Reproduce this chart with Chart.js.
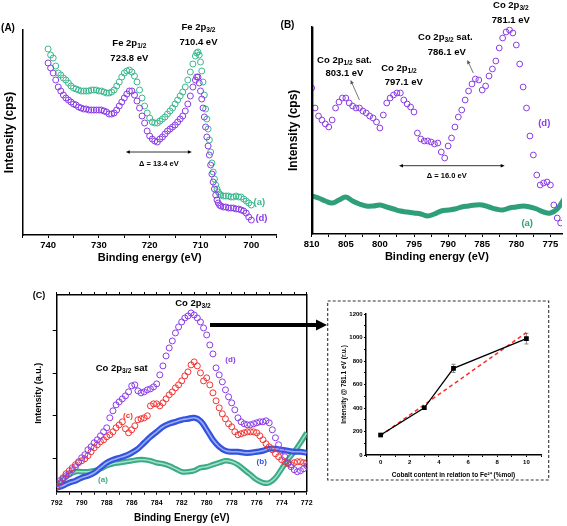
<!DOCTYPE html>
<html>
<head>
<meta charset="utf-8">
<title>XPS Fe 2p / Co 2p</title>
<script src="https://cdn.jsdelivr.net/npm/chart.js@4.4.1/dist/chart.umd.min.js"></script>
<style>
  body { margin: 0; background: #fff; }
  #page { position: relative; width: 567px; height: 526px; overflow: hidden; background: #fff; }
  canvas { position: absolute; }
</style>
</head>
<body>
<div id="page">
  <canvas id="chartA" width="285" height="270" style="left:0px;top:0px;z-index:1"></canvas>
  <canvas id="chartC" width="330" height="256" style="left:0px;top:270px;z-index:1"></canvas>
  <canvas id="chartD" width="224" height="182" style="left:326px;top:300px;z-index:2"></canvas>
  <canvas id="chartB" width="287" height="270" style="left:280px;top:0px;z-index:3"></canvas>
</div>
<script>
// Panel A - Fe 2p region: 740 -> 711 eV every 0.5 eV, the steep edge every 0.25 eV, then 705.5 -> 700 eV
const feEnergy = energyRange(740, 711, 0.5)
  .concat(energyRange(710.75, 706, 0.25))
  .concat(energyRange(705.5, 700, 0.5));
const feSampleA = [
  186, 180, 177, 169, 162, 160, 157, 155, 152, 149,
  147, 146, 145, 144, 144, 144, 144, 145, 145, 145,
  144, 144, 143, 142, 142, 143, 145, 149, 153, 158,
  162, 164, 165, 163, 159, 153, 145, 137, 129, 122,
  117, 113, 112, 112, 114, 116, 118, 121, 124, 127,
  131, 135, 139, 143, 148, 155, 163, 171, 179,
  182, 183, 180, 173, 164, 153, 140, 126, 116, 106,
  95, 83, 72, 63, 56, 50, 46, 43, 41, 40,
  39, 39, 39, 38, 38, 39, 38, 38, 36, 34, 32, 30,
];
const feSampleD = [
  172, 167, 162, 155, 148, 144, 140, 137, 135, 133,
  131, 130, 128, 127, 126, 126, 125, 125, 125, 125,
  125, 125, 124, 123, 121, 121, 122, 125, 129, 133,
  137, 141, 144, 144, 140, 134, 127, 119, 112, 104,
  99, 96, 94, 93, 96, 98, 101, 104, 106, 108,
  110, 113, 116, 119, 124, 131, 139, 148, 155,
  158, 158, 152, 144, 136, 127, 118, 108, 98, 89,
  80, 70, 61, 53, 46, 40, 35, 32, 30, 29,
  28, 28, 27, 27, 27, 26, 26, 25, 24, 22, 18, 15,
];

// Panel B - Co 2p region, sample (d) every 0.5 eV, sample (a) every 1 eV
const coWideEnergyD = energyRange(810, 773.5, 0.5);
const coWideSampleD = [
  146, 126, 118, 114, 110, 107, 114, 126, 132, 136,
  136, 131, 128, 126, 126, 123, 121, 118, 116, 112,
  106, 119, 131, 136, 139, 141, 141, 134, 130, 127,
  122, 101, 95, 93, 93, 92, 90, 91, 82, 76,
  88, 96, 107, 117, 124, 134, 143, 150, 155, 154,
  144, 148, 158, 165, 173, 186, 196, 202, 204, 201,
  189, 170, 147, 126, 98, 79, 59, 49, 51, 52,
  49, 29, 16, 11,
];
const coWideEnergyA = energyRange(810, 773, 1);
const coWideSampleA = [
  38, 36, 33, 31, 34, 37, 33, 30, 28, 28,
  29, 27, 25, 23, 22, 21, 20, 18, 20, 23,
  24, 25, 27, 28, 29, 29, 27, 25, 24, 26,
  27, 28, 27, 25, 22, 21, 25, 35,
];

// Panel C - Co 2p3/2 region, samples (a)-(d)
const coEnergyFine = energyRange(792, 772, 0.25);
const coEnergy = energyRange(792, 772, 0.5);
const coSampleD = [
  8, 11, 13, 16, 18, 22, 25, 30, 34, 37,
  42, 45, 49, 52, 56, 60, 64, 74, 81, 87,
  90, 93, 96, 100, 106, 107, 101, 99, 100, 102,
  103, 105, 108, 117, 126, 136, 144, 151, 159, 165,
  170, 174, 176, 179, 177, 174, 170, 164, 157, 147,
  138, 124, 117, 110, 102, 95, 89, 82, 74, 70,
  68, 67, 67, 68, 69, 70, 70, 71, 69, 62,
  54, 47, 41, 35, 29, 25, 22, 20, 21, 23,
  26,
];
const coSampleC = [
  5, 9, 14, 18, 21, 24, 27, 29, 31, 33,
  36, 40, 44, 47, 50, 52, 55, 57, 60, 64,
  67, 70, 63, 59, 62, 66, 72, 73, 74, 76,
  86, 88, 88, 86, 89, 93, 97, 100, 104, 107,
  111, 116, 120, 127, 130, 126, 119, 111, 114, 107,
  99, 91, 84, 78, 73, 68, 65, 60, 57, 58,
  59, 60, 60, 60, 59, 56, 52, 48, 45, 42,
  38, 35, 32, 30, 28, 27, 29, 30, 30, 29,
  29,
];
const coSampleB = [
  4, 6, 9, 11, 14, 16, 19, 24, 29, 32,
  34, 36, 39, 43, 49, 55, 60, 65, 68, 70,
  72, 73, 74, 71, 62, 52, 45, 41, 40, 40,
  39, 39, 40, 41, 43, 43, 42, 41, 40, 40,
  39,
];
const coSampleA = [
  5, 12, 17, 20, 20, 20, 21, 23, 26, 28,
  29, 30, 31, 32, 32, 31, 29, 28, 26, 23,
  20, 20, 21, 24, 25, 27, 29, 31, 30, 27,
  22, 17, 12, 9, 9, 14, 23, 32, 40, 49,
  59,
];
const coTickLevels = [33.4, 76, 118.7, 161.4];

// Panel D - intensity at 781.1 eV vs cobalt content
const cobaltContent = [0, 3, 5, 10];
const intensity781 = [170, 402, 737, 990];
const intensityError = [15, 15, 35, 45];
const fitContent = [0, 10];
const fitIntensity = [165, 1042];

const FONT = "'Liberation Sans', Arial, Helvetica, sans-serif";
const GREEN = "#3db88e";
const BAND_GREEN = "#2e9f7a";
const C_GREEN = "#3aab86";
const PURPLE = "#8a3ce6";
const RED = "#f23434";
const BLUE = "#3352df";

Chart.defaults.font.family = FONT;
Chart.defaults.font.weight = "bold";
Chart.defaults.color = "#000";

function energyRange(from, to, step) {
  let n = Math.round((from - to) / step);
  let out = [];
  for (let i = 0; i <= n; i++) out.push(+(from - i * step).toFixed(2));
  return out;
}

function points(xs, ys) {
  return ys.map(function (y, i) {
    return { x: xs[i], y: y };
  });
}

// text with sub/superscript parts: [text, 0 normal | 1 sub | 2 sup]
function richText(ctx, parts, x, y, size, color) {
  let widths = parts.map(function (p) {
    ctx.font = "bold " + (p[1] ? size * 0.7 : size) + "px " + FONT;
    return ctx.measureText(p[0]).width;
  });
  let total = widths.reduce((a, b) => a + b, 0);
  let cx = x - total / 2;
  ctx.fillStyle = color || "#000";
  ctx.textBaseline = "middle";
  ctx.textAlign = "left";
  parts.forEach(function (p, i) {
    ctx.font = "bold " + (p[1] ? size * 0.7 : size) + "px " + FONT;
    let dy = p[1] === 1 ? size * 0.3 : p[1] === 2 ? -size * 0.35 : 0;
    ctx.fillText(p[0], cx, y + dy);
    cx += widths[i];
  });
}

function arrowHead(ctx, x, y, ang, len, half) {
  let c = Math.cos(ang), s = Math.sin(ang);
  ctx.beginPath();
  ctx.moveTo(x, y);
  ctx.lineTo(x - c * len - s * half, y - s * len + c * half);
  ctx.lineTo(x - c * len + s * half, y - s * len - c * half);
  ctx.closePath();
  ctx.fill();
}

function drawArrow(ctx, x1, y1, x2, y2, a) {
  let head = a.head || 4;
  let half = a.half || head * 0.45;
  let ang = Math.atan2(y2 - y1, x2 - x1);
  let c = Math.cos(ang), s = Math.sin(ang);
  ctx.strokeStyle = a.color || "#000";
  ctx.fillStyle = a.color || "#000";
  ctx.lineWidth = a.width || 1;
  ctx.beginPath();
  ctx.moveTo(a.both ? x1 + c * head * 0.9 : x1, a.both ? y1 + s * head * 0.9 : y1);
  ctx.lineTo(x2 - c * head * 0.9, y2 - s * head * 0.9);
  ctx.stroke();
  arrowHead(ctx, x2, y2, ang, head, half);
  if (a.both) arrowHead(ctx, x1, y1, ang + Math.PI, head, half);
}

// Draw labels, arrows and frames given in data units (or absolute pixels)
const notesPlugin = {
  id: "notes",
  afterDraw: function (chart, args, opts) {
    let ctx = chart.ctx;
    let area = chart.chartArea;
    let xs = chart.scales.x, ys = chart.scales.y;
    let px = (p) => [xs.getPixelForValue(p[0]), ys.getPixelForValue(p[1])];
    ctx.save();
    if (opts.box) {
      ctx.strokeStyle = "#333";
      ctx.lineWidth = 1.1;
      ctx.setLineDash([3, 2]);
      ctx.strokeRect(opts.box[0], opts.box[1], opts.box[2], opts.box[3]);
      ctx.setLineDash([]);
    }
    (opts.arrows || []).forEach(function (a) {
      let p1 = a.absFrom || px(a.from);
      let p2 = a.absTo || px(a.to);
      drawArrow(ctx, p1[0], p1[1], p2[0], p2[1], a);
    });
    (opts.texts || []).forEach(function (t) {
      let p = t.abs || px(t.at);
      richText(ctx, t.parts, p[0], p[1], t.size || 9.5, t.color);
    });
    if (opts.leftLine) {
      ctx.strokeStyle = "#000";
      ctx.lineWidth = 1.8;
      ctx.beginPath();
      ctx.moveTo(Math.round(area.left) + 0.5, area.top);
      ctx.lineTo(Math.round(area.left) + 0.5, area.bottom);
      ctx.stroke();
    }
    ctx.restore();
  },
};

// Error bars under the points of one dataset
const errorBarPlugin = {
  id: "errorBars",
  beforeDatasetsDraw: function (chart, args, opts) {
    if (!opts.errors) return;
    let ctx = chart.ctx;
    let ys = chart.scales.y;
    let meta = chart.getDatasetMeta(opts.datasetIndex);
    let values = chart.data.datasets[opts.datasetIndex].data;
    ctx.save();
    ctx.strokeStyle = opts.color;
    ctx.lineWidth = 1;
    meta.data.forEach(function (pt, i) {
      let top = ys.getPixelForValue(values[i].y + opts.errors[i]);
      let bot = ys.getPixelForValue(values[i].y - opts.errors[i]);
      ctx.beginPath();
      ctx.moveTo(pt.x, top);
      ctx.lineTo(pt.x, bot);
      ctx.moveTo(pt.x - 2, top);
      ctx.lineTo(pt.x + 2, top);
      ctx.moveTo(pt.x - 2, bot);
      ctx.lineTo(pt.x + 2, bot);
      ctx.stroke();
    });
    ctx.restore();
  },
};

function energyAxis(o) {
  return {
    type: "linear",
    position: o.position || "bottom",
    reverse: o.reverse !== false,
    min: o.min,
    max: o.max,
    afterFit: function (scale) {
      scale.height = o.height;
    },
    border: { display: true, color: "#000", width: 1.5 },
    grid: { display: true, drawOnChartArea: false, drawTicks: true, tickLength: o.tickLength || 3, tickColor: "#000", tickWidth: 1 },
    ticks: {
      display: !!o.labelEvery,
      stepSize: o.step,
      autoSkip: false,
      maxRotation: 0,
      includeBounds: false,
      padding: o.padding || 0,
      color: "#000",
      font: { size: o.fontSize || 9.5, weight: "bold" },
      callback: function (v) {
        if (o.labelRange && (v < o.labelRange[0] || v > o.labelRange[1])) return "";
        return Math.abs(v % o.labelEvery) < 1e-6 ? v : "";
      },
    },
    title: {
      display: !!o.title,
      text: o.title,
      color: "#000",
      font: { size: o.titleSize || 11, weight: "bold" },
      padding: { top: 0, bottom: o.titlePadding || 0 },
    },
  };
}

function intensityAxis(o) {
  let hasTicks = !!(o.tickValues || o.step);
  let axis = {
    type: "linear",
    position: o.position || "left",
    min: o.min,
    max: o.max,
    afterFit: function (scale) {
      scale.width = o.width;
    },
    border: { display: true, color: "#000", width: 1.5 },
    grid: { display: hasTicks, drawOnChartArea: false, drawTicks: true, tickLength: o.tickLength || 3, tickColor: "#000", tickWidth: 1 },
    ticks: {
      display: !!o.labelEvery,
      stepSize: o.step,
      autoSkip: false,
      padding: o.padding || 0,
      color: "#000",
      font: { size: o.fontSize || 6, weight: "bold" },
      callback: function (v) {
        return v % o.labelEvery === 0 ? v : "";
      },
    },
    title: {
      display: !!o.title,
      text: o.title,
      color: "#000",
      font: { size: o.titleSize || 12, weight: "bold" },
      padding: { top: o.titlePadding || 0, bottom: 0 },
    },
  };
  if (o.tickValues) {
    axis.afterBuildTicks = function (scale) {
      scale.ticks = o.tickValues.map((v) => ({ value: v }));
    };
  }
  return axis;
}

function markerSet(xs, ys, color, radius) {
  return {
    data: points(xs, ys),
    borderColor: color,
    backgroundColor: "rgba(0,0,0,0)",
    pointRadius: radius,
    pointBorderWidth: 1,
    showLine: false,
  };
}

// thick smoothed band: densely packed hollow markers in the original
function bandSet(xs, ys, color, width) {
  return {
    data: points(xs, ys),
    borderColor: color,
    backgroundColor: color,
    borderWidth: width,
    pointRadius: 0,
    showLine: true,
    fill: false,
    tension: 0.4,
  };
}

// ---- (A) Fe 2p ----
new Chart(document.getElementById("chartA"), {
  type: "scatter",
  data: {
    datasets: [markerSet(feEnergy, feSampleD, PURPLE, 3), markerSet(feEnergy, feSampleA, GREEN, 3)],
  },
  plugins: [notesPlugin],
  options: {
    responsive: false,
    animation: false,
    events: [],
    layout: { padding: { left: 0, top: 30, right: 8.3, bottom: 0 } },
    plugins: {
      legend: { display: false },
      tooltip: { enabled: false },
      notes: {
        texts: [
          { at: [724.0, 192], parts: [["Fe 2p", 0], ["1/2", 1]] },
          { at: [724.0, 177], parts: [["723.8 eV", 0]] },
          { at: [710.4, 208], parts: [["Fe 2p", 0], ["3/2", 1]] },
          { at: [710.4, 193], parts: [["710.4 eV", 0]] },
          { at: [718.2, 71], parts: [["\u0394 = 13.4 eV", 0]], size: 7.5 },
          { at: [698.4, 33], parts: [["(a)", 0]], color: GREEN },
          { at: [698.0, 17], parts: [["(d)", 0]], color: PURPLE },
          { abs: [8, 28], parts: [["(A)", 0]], size: 10 },
        ],
        arrows: [{ from: [724.7, 83], to: [711.7, 83], both: true, width: 0.8, head: 4 }],
      },
    },
    scales: {
      x: energyAxis({ min: 695, max: 745, step: 5, labelEvery: 10, height: 35, padding: 1.3, title: "Binding energy (eV)", titlePadding: 5.4 }),
      y: intensityAxis({ min: 0, max: 205, width: 22.7, title: "Intensity (cps)", titlePadding: 2.9 }),
    },
  },
});

// ---- (B) Co 2p ----
new Chart(document.getElementById("chartB"), {
  type: "scatter",
  data: {
    datasets: [markerSet(coWideEnergyD, coWideSampleD, PURPLE, 2.9), bandSet(coWideEnergyA, coWideSampleA, BAND_GREEN, 5)],
  },
  plugins: [notesPlugin],
  options: {
    responsive: false,
    animation: false,
    events: [],
    layout: { padding: { left: 0, top: 26.7, right: 0, bottom: 0 } },
    plugins: {
      legend: { display: false },
      tooltip: { enabled: false },
      notes: {
        leftLine: true,
        texts: [
          { at: [805.2, 174], parts: [["Co 2p", 0], ["1/2", 1], [" sat.", 0]] },
          { at: [805.2, 161], parts: [["803.1 eV", 0]] },
          { at: [797.2, 166], parts: [["Co 2p", 0], ["1/2", 1]] },
          { at: [796.5, 152], parts: [["797.1 eV", 0]] },
          { at: [790.4, 197], parts: [["Co 2p", 0], ["3/2", 1], [" sat.", 0]] },
          { at: [790.2, 182], parts: [["786.1 eV", 0]] },
          { at: [780.8, 229], parts: [["Co 2p", 0], ["3/2", 1]] },
          { at: [780.8, 214], parts: [["781.1 eV", 0]] },
          { at: [790.2, 58], parts: [["\u0394 = 16.0 eV", 0]], size: 7.5 },
          { at: [775.9, 111], parts: [["(d)", 0]], color: PURPLE },
          { at: [778.4, 11], parts: [["(a)", 0]], color: BAND_GREEN },
          { abs: [7.5, 25], parts: [["(B)", 0]], size: 10 },
        ],
        arrows: [
          { from: [797.2, 68.3], to: [781.7, 68.3], both: true, width: 0.8, head: 4 },
          { from: [803.0, 134], to: [804.3, 154], color: "#555", width: 0.8, head: 4 },
          { from: [786.3, 161], to: [787.2, 174], color: "#555", width: 0.8, head: 4 },
        ],
      },
    },
    scales: {
      x: energyAxis({ min: 773.3, max: 810, step: 2.5, labelEvery: 5, height: 36, padding: 1.6, title: "Binding energy (eV)", titlePadding: 6.7 }),
      y: intensityAxis({ min: 0, max: 207.3, width: 31.7, title: "Intensity (cps)", titlePadding: 6.1 }),
    },
  },
});

// ---- (C) Co 2p3/2 for samples (a)-(d) ----
let blueCore = bandSet(coEnergy, coSampleB, "#9aaef2", 1.6);
let greenCore = bandSet(coEnergy, coSampleA, "#a6e0cb", 1.4);
new Chart(document.getElementById("chartC"), {
  type: "scatter",
  data: {
    datasets: [
      markerSet(coEnergyFine, coSampleD, PURPLE, 3),
      markerSet(coEnergyFine, coSampleC, RED, 3),
      blueCore,
      bandSet(coEnergy, coSampleB, BLUE, 6),
      greenCore,
      bandSet(coEnergy, coSampleA, C_GREEN, 5.5),
    ],
  },
  plugins: [notesPlugin],
  options: {
    responsive: false,
    animation: false,
    events: [],
    layout: { padding: { left: 0, top: 21, right: 23.3, bottom: 0 } },
    plugins: {
      legend: { display: false },
      tooltip: { enabled: false },
      notes: {
        texts: [
          { at: [781.1, 189], parts: [["Co 2p", 0], ["3/2", 1]] },
          { at: [786.8, 124], parts: [["Co 2p", 0], ["3/2", 1], [" sat", 0]] },
          { at: [778.1, 132], parts: [["(d)", 0]], color: PURPLE, size: 8 },
          { at: [786.3, 76], parts: [["(c)", 0]], color: RED, size: 8 },
          { at: [775.6, 30], parts: [["(b)", 0]], color: BLUE, size: 8 },
          { at: [788.3, 12], parts: [["(a)", 0]], color: C_GREEN, size: 8 },
          { abs: [39, 26], parts: [["(C)", 0]], size: 9 },
        ],
        arrows: [{ absFrom: [210, 55], absTo: [327, 55], width: 4, head: 11, half: 5.5 }],
      },
    },
    scales: {
      x: energyAxis({ min: 772, max: 792, step: 1, labelEvery: 2, height: 34.3, padding: 4, fontSize: 7, title: "Binding Energy (eV)", titleSize: 10, titlePadding: 2 }),
      xTop: energyAxis({ position: "top", min: 772, max: 792, step: 1, height: 4 }),
      y: intensityAxis({ min: 0, max: 197, width: 56.7, tickValues: coTickLevels, tickLength: 4, title: "Intensity (a.u.)", titleSize: 9, titlePadding: 33.6 }),
      yRight: intensityAxis({ position: "right", min: 0, max: 197, width: 0 }),
    },
  },
});

// ---- inset: intensity @ 781.1 eV vs cobalt content ----
new Chart(document.getElementById("chartD"), {
  type: "scatter",
  data: {
    datasets: [
      {
        data: points(cobaltContent, intensity781),
        showLine: true,
        borderColor: "#000",
        borderWidth: 1.3,
        pointStyle: "rect",
        pointRadius: 2.4,
        pointBackgroundColor: "#000",
        pointBorderColor: "#000",
      },
      {
        data: points(fitContent, fitIntensity),
        showLine: true,
        borderColor: "#ff2a2a",
        borderWidth: 1.5,
        borderDash: [4, 3],
        pointRadius: 0,
      },
    ],
  },
  plugins: [notesPlugin, errorBarPlugin],
  options: {
    responsive: false,
    animation: false,
    events: [],
    layout: { padding: { left: 0, top: 14, right: 9, bottom: 0 } },
    plugins: {
      legend: { display: false },
      tooltip: { enabled: false },
      errorBars: { datasetIndex: 0, errors: intensityError, color: "#888" },
      notes: { box: [1.7, 1, 221, 179] },
    },
    scales: {
      x: energyAxis({ reverse: false, min: -1, max: 11, step: 1, labelEvery: 2, labelRange: [0, 10], height: 27, tickLength: 2, padding: 1.4, fontSize: 6, title: "Cobalt content in relation to Fe\u00b2\u207a (%mol)", titleSize: 6.5, titlePadding: 3.1 }),
      y: intensityAxis({ min: 0, max: 1200, step: 100, labelEvery: 200, width: 40, tickLength: 2, padding: 1.3, fontSize: 6, title: "Intensity @ 781.1 eV (r.u.)", titleSize: 6.5, titlePadding: 14.4 }),
    },
  },
});
</script>
</body>
</html>
